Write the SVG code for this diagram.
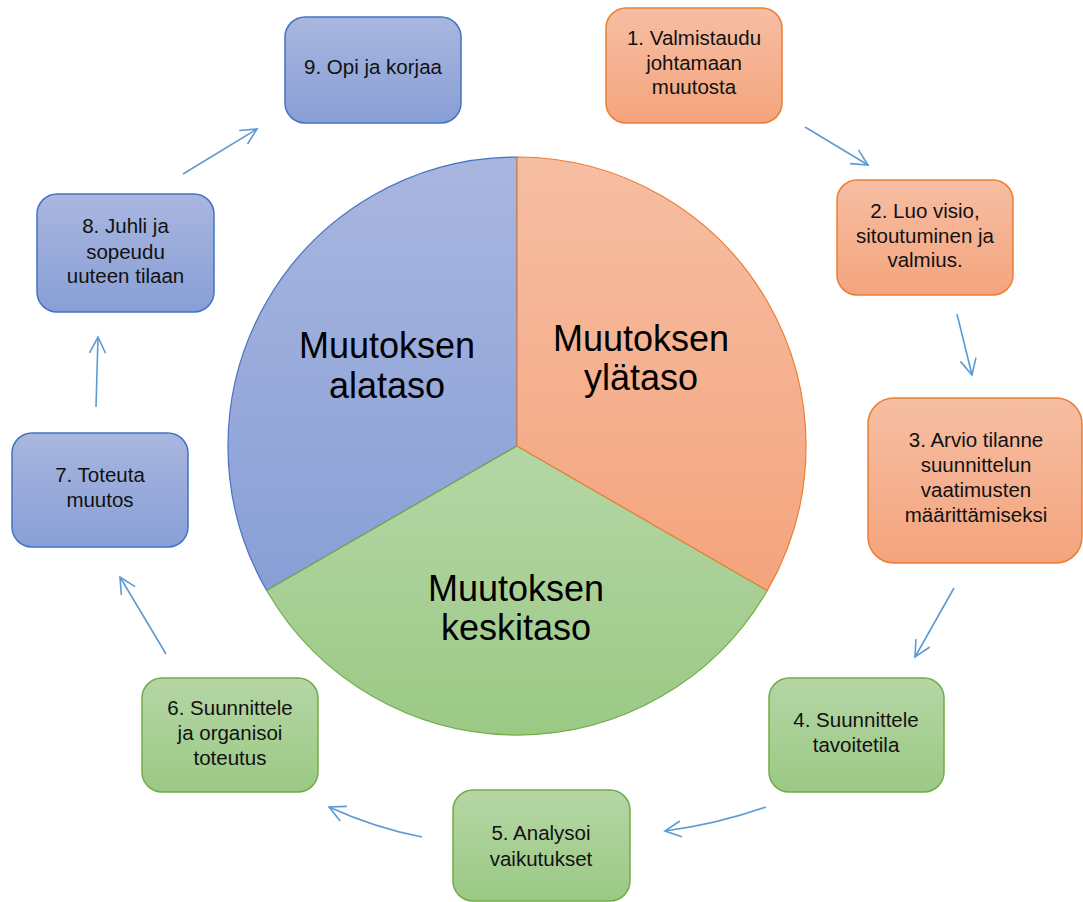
<svg xmlns="http://www.w3.org/2000/svg" width="1083" height="902" viewBox="0 0 1083 902">
<style>
.box{stroke-width:1.5}
.o{stroke:#ed7d31}
.b{stroke:#4472c4}
.g{stroke:#70ad47}
.t{font-family:"Liberation Sans",Arial,sans-serif;font-size:20.5px;fill:#111;text-anchor:middle}
.pt{font-family:"Liberation Sans",Arial,sans-serif;font-size:36px;fill:#000;text-anchor:middle}
.arr{fill:none;stroke:#5b9bd5;stroke-width:1.6;marker-end:url(#ah)}
</style>
<defs>
<linearGradient id="go" x1="0" y1="0" x2="0" y2="1"><stop offset="0" stop-color="#f6bea3"/><stop offset="1" stop-color="#f4a47d"/></linearGradient>
<linearGradient id="gb" x1="0" y1="0" x2="0" y2="1"><stop offset="0" stop-color="#a9b6df"/><stop offset="1" stop-color="#889fd6"/></linearGradient>
<linearGradient id="gg" x1="0" y1="0" x2="0" y2="1"><stop offset="0" stop-color="#b5d6a5"/><stop offset="1" stop-color="#9bc985"/></linearGradient>
<marker id="ah" viewBox="-18 -10 20 20" refX="0" refY="0" markerWidth="20" markerHeight="20" markerUnits="userSpaceOnUse" orient="auto">
<path d="M-16,-8 L0,0 L-16,8" fill="none" stroke="#5b9bd5" stroke-width="1.6" stroke-linejoin="miter"/>
</marker>
</defs>
<rect width="1083" height="902" fill="#fff"/>
<g id="pie">
<path id="slice-ala" d="M517,446 L266.7,590.5 A289,289 0 0 1 517,157 Z" fill="url(#gb)" stroke="#4472c4" stroke-width="1.2"/>
<path id="slice-keski" d="M517,446 L767.3,590.5 A289,289 0 0 1 266.7,590.5 Z" fill="url(#gg)" stroke="#70ad47" stroke-width="1.2"/>
<path id="slice-yla" d="M517,446 L517,157 A289,289 0 0 1 767.3,590.5 Z" fill="url(#go)" stroke="#ed7d31" stroke-width="1.2"/>
<text class="pt" x="641" y="351">Muutoksen</text>
<text class="pt" x="641" y="390">ylätaso</text>
<text class="pt" x="387" y="358">Muutoksen</text>
<text class="pt" x="387" y="398">alataso</text>
<text class="pt" x="516" y="601">Muutoksen</text>
<text class="pt" x="516" y="640">keskitaso</text>
</g>
<g id="connectors">
<path class="arr" d="M805,127 L868,165"/>
<path class="arr" d="M957,314 L972,375"/>
<path class="arr" d="M954,588 L915,657"/>
<path class="arr" d="M766,807 Q718,824 665,831"/>
<path class="arr" d="M422,837 Q375,828 329,807"/>
<path class="arr" d="M166,654 L120,577"/>
<path class="arr" d="M96,407 L98,337"/>
<path class="arr" d="M183,174 L257,129"/>
</g>
<g id="n1"><rect class="box o" x="606" y="8" width="176" height="115" rx="20" fill="url(#go)"/>
<text class="t" x="694" y="45">1. Valmistaudu</text><text class="t" x="694" y="70">johtamaan</text><text class="t" x="694" y="94">muutosta</text></g>
<g id="n2"><rect class="box o" x="837" y="180" width="176" height="115" rx="20" fill="url(#go)"/>
<text class="t" x="925" y="218">2. Luo visio,</text><text class="t" x="925" y="243">sitoutuminen ja</text><text class="t" x="925" y="267">valmius.</text></g>
<g id="n3"><rect class="box o" x="868" y="398" width="214" height="165" rx="26" fill="url(#go)"/>
<text class="t" x="976" y="447">3. Arvio tilanne</text><text class="t" x="976" y="472">suunnittelun</text><text class="t" x="976" y="497">vaatimusten</text><text class="t" x="976" y="522">määrittämiseksi</text></g>
<g id="n4"><rect class="box g" x="769" y="678" width="175" height="114" rx="20" fill="url(#gg)"/>
<text class="t" x="856" y="727">4. Suunnittele</text><text class="t" x="856" y="752">tavoitetila</text></g>
<g id="n5"><rect class="box g" x="453" y="790" width="177" height="111" rx="20" fill="url(#gg)"/>
<text class="t" x="541" y="840">5. Analysoi</text><text class="t" x="541" y="866">vaikutukset</text></g>
<g id="n6"><rect class="box g" x="142" y="678" width="176" height="114" rx="20" fill="url(#gg)"/>
<text class="t" x="230" y="715">6. Suunnittele</text><text class="t" x="230" y="740">ja organisoi</text><text class="t" x="230" y="765">toteutus</text></g>
<g id="n7"><rect class="box b" x="12" y="433" width="176" height="114" rx="20" fill="url(#gb)"/>
<text class="t" x="100" y="482">7. Toteuta</text><text class="t" x="100" y="507">muutos</text></g>
<g id="n8"><rect class="box b" x="37" y="194" width="177" height="118" rx="20" fill="url(#gb)"/>
<text class="t" x="125.5" y="233">8. Juhli ja</text><text class="t" x="125.5" y="259">sopeudu</text><text class="t" x="125.5" y="283">uuteen tilaan</text></g>
<g id="n9"><rect class="box b" x="285" y="17" width="176" height="106" rx="20" fill="url(#gb)"/>
<text class="t" x="373" y="74">9. Opi ja korjaa</text></g>
</svg>
